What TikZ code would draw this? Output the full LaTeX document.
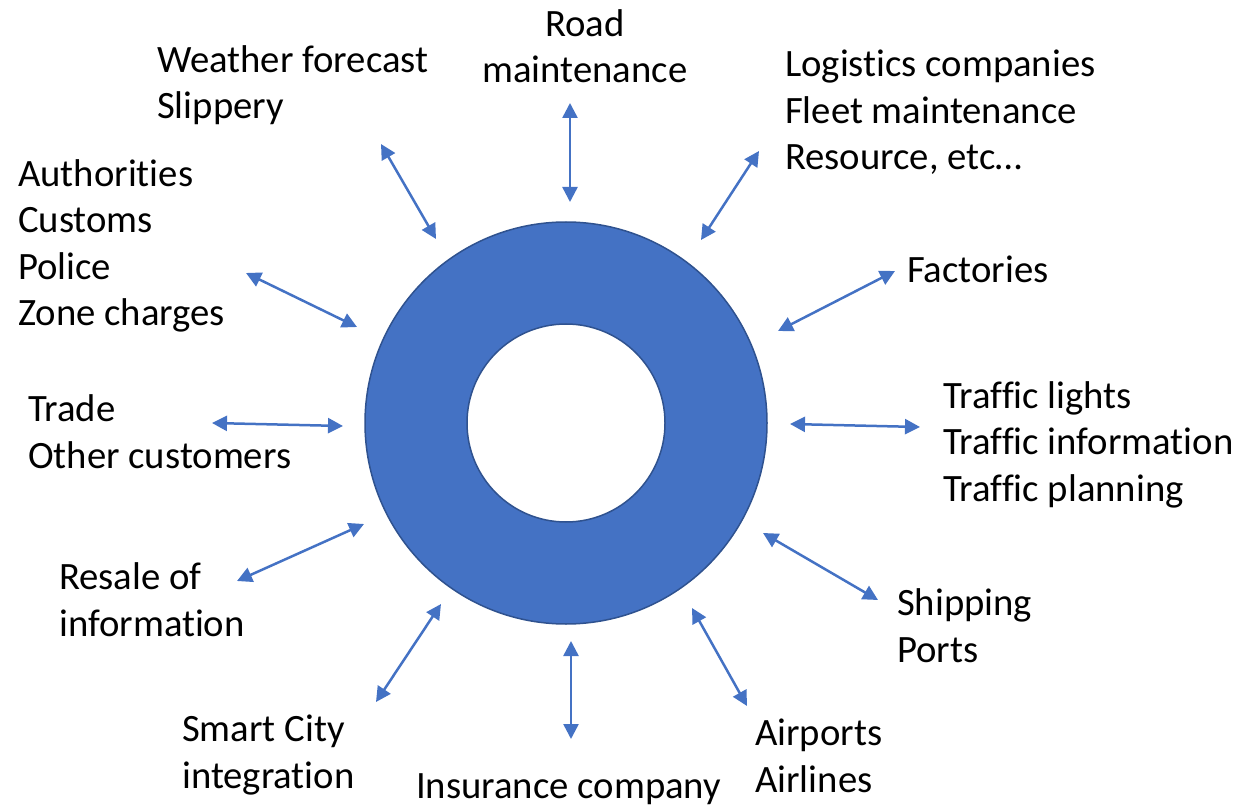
\documentclass[tikz,border=0pt]{standalone}
\usepackage{fontspec}
\setmainfont[Ligatures={NoCommon}]{Carlito}
\usetikzlibrary{arrows.meta}
\definecolor{ringblue}{HTML}{4472C4}
\definecolor{ringline}{HTML}{2F528F}
\tikzstyle{link} = [ringblue, line width=2.5pt, {Triangle[length=15pt,width=15pt]}-{Triangle[length=15pt,width=15pt]}]
\tikzstyle{actor} = [anchor=base west, inner sep=0pt, align=left, font=\fontsize{38.7}{46.5}\selectfont]

\begin{document}
\begin{tikzpicture}[x=1pt,y=-1pt]
    \useasboundingbox (0,0) rectangle (1245,810);
    \def \R {402pt}
    \def \r {198pt}
    % the ring
    \node[circle, draw=ringline, line width=1.5pt, fill=ringblue, minimum size=\R, inner sep=0pt] (ring) at (566,423) {};
    \node[circle, draw=ringline, line width=1.5pt, fill=white, minimum size=\r, inner sep=0pt] (hole) at (ring.center) {};

    % partners (placed at the baseline of their last line)
    \node[actor, anchor=base, align=center] (road) at (585,83) {Road\\maintenance};
    \node[actor] (weather) at (157,119) {Weather forecast\\Slippery};
    \node[actor] (logistics) at (785,170) {Logistics companies\\Fleet maintenance\\Resource, etc…};
    \node[actor] (authorities) at (18,326) {Authorities\\Customs\\Police\\Zone charges};
    \node[actor] (factories) at (907,283) {Factories};
    \node[actor] (trade) at (28,468) {Trade\\Other customers};
    \node[actor] (traffic) at (943,501) {Traffic lights\\Traffic information\\Traffic planning};
    \node[actor] (resale) at (59,636) {Resale of\\information};
    \node[actor] (shipping) at (897,662) {Shipping\\Ports};
    \node[actor] (smartcity) at (182,788) {Smart City\\integration};
    \node[actor] (insurance) at (416,798) {Insurance company};
    \node[actor] (airports) at (755,792) {Airports\\Airlines};

    % arrow ends
    \coordinate (road-a) at (570,103);      \coordinate (road-b) at (570,202);
    \coordinate (weather-a) at (381,144);   \coordinate (weather-b) at (436,239);
    \coordinate (logistics-a) at (759,151); \coordinate (logistics-b) at (701,240);
    \coordinate (authorities-a) at (246,273); \coordinate (authorities-b) at (357,327);
    \coordinate (factories-a) at (895,271); \coordinate (factories-b) at (778,331);
    \coordinate (trade-a) at (212,423);     \coordinate (trade-b) at (343,426);
    \coordinate (traffic-a) at (790,424);   \coordinate (traffic-b) at (920,427);
    \coordinate (resale-a) at (237,581);    \coordinate (resale-b) at (364,524);
    \coordinate (shipping-a) at (763,533);  \coordinate (shipping-b) at (878,600);
    \coordinate (smartcity-a) at (441,604); \coordinate (smartcity-b) at (376,702);
    \coordinate (insurance-a) at (571,641); \coordinate (insurance-b) at (571,739);
    \coordinate (airports-a) at (692,608);  \coordinate (airports-b) at (747,706);

    \foreach \p in {road,weather,logistics,authorities,factories,trade,traffic,resale,shipping,smartcity,insurance,airports}
        \draw[link] (\p-a) -- (\p-b);
\end{tikzpicture}
\end{document}
